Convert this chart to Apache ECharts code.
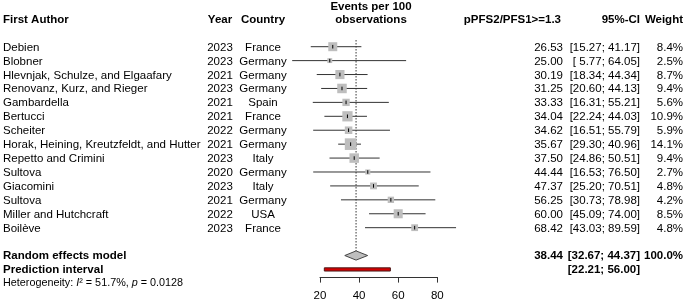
<!DOCTYPE html>
<html>
<head>
<meta charset="utf-8">
<style>
  html, body { margin: 0; padding: 0; background: #fff; }
  #chart { width: 685px; height: 303px; }
</style>
<script src="https://cdn.jsdelivr.net/npm/echarts@6/dist/echarts.min.js"></script>
</head>
<body>
<div id="chart"></div>
<script>
// study data
const authors = ['Debien', 'Blobner', 'Hlevnjak, Schulze, and Elgaafary', 'Renovanz, Kurz, and Rieger',
  'Gambardella', 'Bertucci', 'Scheiter', 'Horak, Heining, Kreutzfeldt, and Hutter', 'Repetto and Crimini',
  'Sultova', 'Giacomini', 'Sultova', 'Miller and Hutchcraft', 'Boilève']
const years = [2023, 2023, 2021, 2023, 2021, 2021, 2022, 2021, 2023, 2020, 2023, 2021, 2022, 2023]
const countries = ['France', 'Germany', 'Germany', 'Germany', 'Spain', 'France', 'Germany', 'Germany',
  'Italy', 'Germany', 'Italy', 'Germany', 'USA', 'France']
const est = [26.53, 25.00, 30.19, 31.25, 33.33, 34.04, 34.62, 35.67, 37.50, 44.44, 47.37, 56.25, 60.00, 68.42]
const lower = [15.27, 5.77, 18.34, 20.60, 16.31, 22.24, 16.51, 29.30, 24.86, 16.53, 25.20, 30.73, 45.09, 43.03]
const upper = [41.17, 64.05, 44.34, 44.13, 55.21, 44.03, 55.79, 40.96, 50.51, 76.50, 70.51, 78.98, 74.00, 89.59]
const weights = [8.4, 2.5, 8.7, 9.4, 5.6, 10.9, 5.9, 14.1, 9.4, 2.7, 4.8, 4.2, 8.5, 4.8]

// pooled results
const pooled = [38.44, 32.67, 44.37]
const predInt = [22.21, 56.00]
const hetI2 = '51.7%'
const hetP = '0.0128'

const xTicks = [20, 40, 60, 80]

const FONT = 'Liberation Sans, Arial, sans-serif'
const FS = 11.5

// column positions (px)
const colAuthor = 3
const colYear = 220
const colCountry = 263
const colEst = 563
const colCI = 640
const colW = 683

const fmtCI = (l, u) => {
  const f = v => (v < 10 ? ' ' : '') + v.toFixed(2)
  return '[' + f(l) + '; ' + f(u) + ']'
}

const txt = (text, x, y, align, bold, extra) => ({
  type: 'text',
  x: x,
  y: y,
  style: Object.assign({
    text: text,
    fill: '#000',
    font: (bold ? 'bold ' : '') + FS + 'px ' + FONT,
    align: align,
    verticalAlign: 'middle'
  }, extra || {})
})

const chart = echarts.init(document.getElementById('chart'))

const studyData = est.map((e, i) => [e, i, lower[i], upper[i], weights[i]])
const nRows = authors.length

chart.setOption({
  animation: false,
  grid: {
    left: 320,
    right: 247.7,
    top: 46.7,
    bottom: 25.9
  },
  xAxis: {
    type: 'value',
    position: 'bottom',
    min: 20,
    max: 80,
    interval: 20,
    splitLine: { show: false },
    axisLine: { show: true, onZero: false, lineStyle: { color: '#333', width: 1 } },
    axisTick: { show: true, length: 5.5, lineStyle: { color: '#333' } },
    axisLabel: {
      margin: 13,
      color: '#000',
      fontSize: FS,
      fontFamily: FONT,
      formatter: v => xTicks.includes(v) ? String(v) : ''
    }
  },
  yAxis: {
    type: 'value',
    inverse: true,
    min: 0,
    max: 16.55,
    show: false
  },
  graphic: [
    txt('First Author', colAuthor, 20, 'left', true),
    txt('Year', colYear, 20, 'center', true),
    txt('Country', colCountry, 20, 'center', true),
    txt('Events per 100', 371, 6.5, 'center', true),
    txt('observations', 371, 19.5, 'center', true),
    txt('pPFS2/PFS1>=1.3', colEst - 2, 20, 'right', true),
    txt('95%-CI', colCI, 20, 'right', true),
    txt('Weight', colW, 20, 'right', true)
  ],
  series: [
    {
      // table text for each study
      type: 'custom',
      clip: false,
      silent: true,
      data: studyData,
      renderItem: (params, api) => {
        const i = params.dataIndex
        const y = api.coord([20, api.value(1)])[1] + 0.8
        return {
          type: 'group',
          children: [
            txt(authors[i], colAuthor, y, 'left'),
            txt(String(years[i]), colYear, y, 'center'),
            txt(countries[i], colCountry, y, 'center'),
            txt(est[i].toFixed(2), colEst, y, 'right'),
            txt(fmtCI(lower[i], upper[i]), colCI, y, 'right'),
            txt(weights[i].toFixed(1) + '%', colW, y, 'right')
          ]
        }
      }
    },
    {
      // reference line at pooled estimate
      type: 'custom',
      clip: false,
      silent: true,
      data: [[pooled[0], -0.48, nRows + 1]],
      renderItem: (params, api) => {
        const p1 = api.coord([api.value(0), api.value(1)])
        const p2 = api.coord([api.value(0), api.value(2)])
        return {
          type: 'line',
          shape: { x1: p1[0], y1: p1[1], x2: p2[0], y2: p2[1] - 4.6 },
          style: { stroke: '#333', lineWidth: 1, lineDash: [1.5, 1.5] }
        }
      }
    },
    {
      // study CI lines and weight squares
      type: 'custom',
      clip: false,
      silent: true,
      data: studyData,
      renderItem: (params, api) => {
        const c = api.coord([api.value(0), api.value(1)])
        const xl = api.coord([api.value(2), 0])[0]
        const xu = api.coord([api.value(3), 0])[0]
        const s = 3.1 * Math.sqrt(api.value(4))
        return {
          type: 'group',
          children: [
            {
              type: 'line',
              shape: { x1: xl, y1: c[1], x2: xu, y2: c[1] },
              style: { stroke: '#333', lineWidth: 1 }
            },
            {
              type: 'rect',
              shape: { x: c[0] - s / 2, y: c[1] - s / 2, width: s, height: s },
              style: { fill: '#bebebe' }
            },
            {
              type: 'line',
              shape: { x1: c[0], y1: c[1] - 1.8, x2: c[0], y2: c[1] + 1.8 },
              style: { stroke: '#000', lineWidth: 1 }
            }
          ]
        }
      }
    },
    {
      // pooled diamond, prediction interval, summary text
      type: 'custom',
      clip: false,
      silent: true,
      data: [[pooled[0], nRows + 1]],
      renderItem: (params, api) => {
        const c = api.coord([pooled[0], nRows + 1])
        const xl = api.coord([pooled[1], 0])[0]
        const xu = api.coord([pooled[2], 0])[0]
        const yp = api.coord([0, nRows + 2])[1]
        const pl = api.coord([predInt[0], 0])[0]
        const pu = api.coord([predInt[1], 0])[0]
        const yh = api.coord([0, nRows + 3])[1]
        const het = {
          type: 'text',
          x: colAuthor,
          y: yh,
          style: {
            text: '{n|Heterogeneity: }{i|I}{n|² = ' + hetI2 + ', }{i|p}{n| = ' + hetP + '}',
            verticalAlign: 'middle',
            rich: {
              n: { fontSize: 10.8, fontFamily: FONT, fill: '#000' },
              i: { fontSize: 10.8, fontFamily: FONT, fontStyle: 'italic', fill: '#000' }
            }
          }
        }
        return {
          type: 'group',
          children: [
            {
              type: 'polygon',
              shape: { points: [[xl, c[1]], [c[0], c[1] - 4.6], [xu, c[1]], [c[0], c[1] + 4.6]] },
              style: { fill: '#bebebe', stroke: '#444', lineWidth: 1 }
            },
            {
              type: 'rect',
              shape: { x: pl, y: yp - 1.6, width: pu - pl, height: 3.2 },
              style: { fill: '#d40000', stroke: '#4a1a1a', lineWidth: 1 }
            },
            txt('Random effects model', colAuthor, c[1] + 0.8, 'left', true),
            txt(pooled[0].toFixed(2), colEst, c[1] + 0.8, 'right', true),
            txt(fmtCI(pooled[1], pooled[2]), colCI, c[1] + 0.8, 'right', true),
            txt('100.0%', colW, c[1] + 0.8, 'right', true),
            txt('Prediction interval', colAuthor, yp + 0.8, 'left', true),
            txt(fmtCI(predInt[0], predInt[1]), colCI, yp + 0.8, 'right', true),
            het
          ]
        }
      }
    }
  ]
})
</script>
</body>
</html>
